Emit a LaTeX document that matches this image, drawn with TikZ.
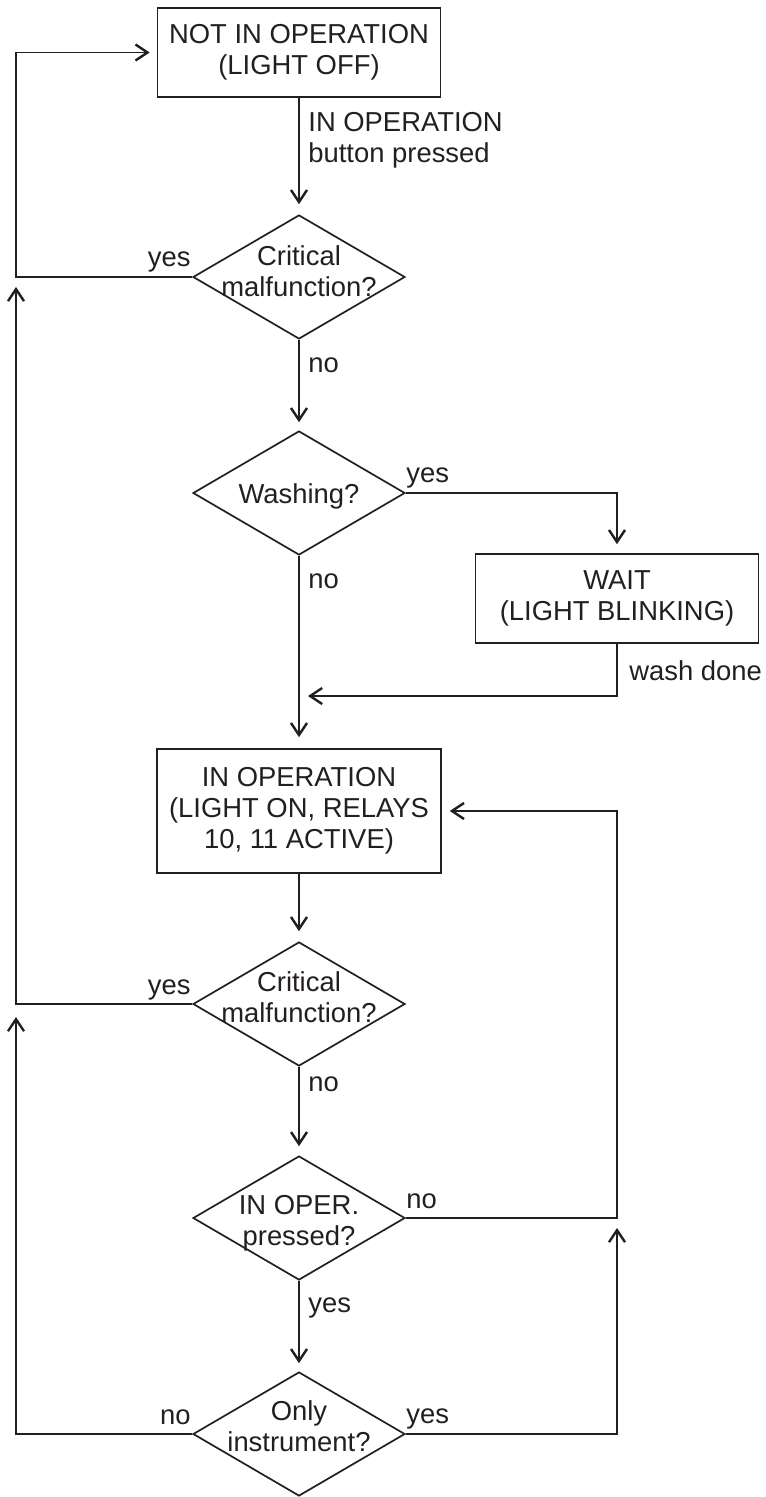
\documentclass[tikz,border=0pt]{standalone}
\usepackage{fontspec}
\setmainfont{Liberation Sans}
\usetikzlibrary{shapes.geometric,arrows.meta}
\definecolor{ink}{HTML}{231F20}
\begin{document}
\begin{tikzpicture}[x=0.5pt,y=-0.5pt,
  every node/.style={font=\fontsize{13.7pt}{15.5pt}\selectfont, text=ink},
  box/.style={draw=ink, line width=0.85pt, rectangle, minimum width=141.5pt, minimum height=44.5pt, inner sep=0pt, align=center},
  dia/.style={draw=ink, line width=0.85pt, diamond, minimum width=106pt, minimum height=62pt, inner sep=0pt},
  dtext/.style={anchor=north, inner sep=0pt, align=center},
  lab/.style={inner sep=0pt},
  conn/.style={draw=ink, line width=0.85pt},
  arr/.style={conn, -{Straight Barb[length=6pt,width=8pt,line width=1.2pt]}},
]
\useasboundingbox (0,0) rectangle (765,1497);

% shapes
\node[box] (b1) at (299,52.5) {NOT IN OPERATION\\(LIGHT OFF)};
\node[dia] (d1) at (299,277) {};
\node[dtext] (t1) at (299,245) {Critical\\malfunction?};
\node[dia] (d2) at (299,493) {};
\node[dtext] (t2) at (299,483) {Washing?};
\node[box] (w) at (617,598.5) {WAIT\\(LIGHT BLINKING)};
\node[box, minimum height=62pt, minimum width=142pt] (b2) at (299,811) {IN OPERATION\\(LIGHT ON, RELAYS\\10, 11 ACTIVE)};
\node[dia] (d3) at (299,1004) {};
\node[dtext] (t3) at (299,971) {Critical\\malfunction?};
\node[dia] (d4) at (299,1218) {};
\node[dtext] (t4) at (299,1195) {IN OPER.\\pressed?};
\node[dia] (d5) at (299,1434) {};
\node[dtext] (t5) at (299,1400) {Only\\instrument?};

% helper coordinates
\coordinate (L) at (16,0);
\coordinate (R) at (617,0);
\coordinate (j1) at (299,696);

% connectors
\draw[arr, shorten >=5pt] (b1.south) -- (d1.north);
\draw[arr, shorten >=3.5pt] (d1.west) -- (d1.west -| L) |- (b1.west);
\draw[arr, shorten >=4pt] (d1.south) -- (d2.north);
\draw[arr, shorten >=4.5pt] (d2.east) -| (w.north);
\draw[arr, shorten >=5.5pt] (d2.south) -- (b2.north);
\draw[arr, shorten >=4.5pt] (w.south) |- (j1);
\draw[arr, shorten >=5pt] (b2.south) -- (d3.north);
\draw[arr, shorten >=5pt] (d3.west) -- (d3.west -| L) -- (d1.west -| L);
\draw[arr, shorten >=4.5pt] (d3.south) -- (d4.north);
\draw[arr, shorten >=4pt] (d4.east) -- (d4.east -| R) |- (b2.east);
\draw[arr, shorten >=4pt] (d4.south) -- (d5.north);
\draw[arr, shorten >=6.5pt] (d5.west) -- (d5.west -| L) -- (d3.west -| L);
\draw[arr, shorten >=5pt] (d5.east) -- (d5.east -| R) -- (d4.east -| R);

% labels
\node[lab, anchor=north west, align=left] (bp) at (308,112) {IN OPERATION\\button pressed};
\node[lab, anchor=base east] (y1) at (191,267) {yes};
\node[lab, anchor=base west] (n1) at (308,373) {no};
\node[lab, anchor=base west] (y2) at (406,482) {yes};
\node[lab, anchor=base west] (n2) at (308,588) {no};
\node[lab, anchor=base west] (wd) at (629,680) {wash done};
\node[lab, anchor=base east] (y3) at (191,994) {yes};
\node[lab, anchor=base west] (n3) at (308,1091) {no};
\node[lab, anchor=base west] (n4) at (406,1208) {no};
\node[lab, anchor=base west] (y4) at (308,1312) {yes};
\node[lab, anchor=base east] (n5) at (191,1424) {no};
\node[lab, anchor=base west] (y5) at (406,1423) {yes};
\end{tikzpicture}
\end{document}
